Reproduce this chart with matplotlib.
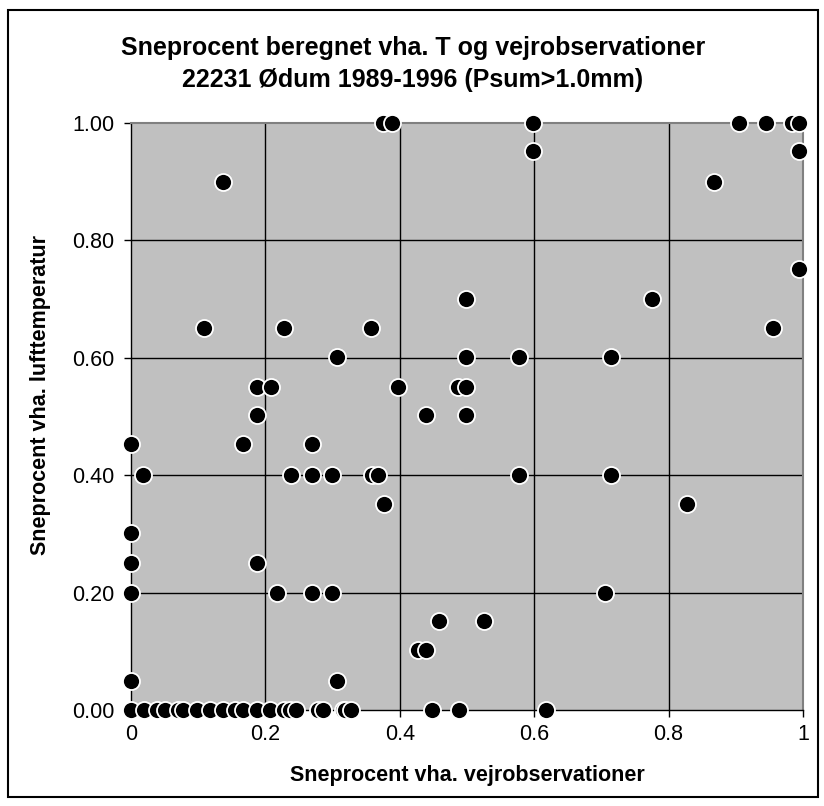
import matplotlib
matplotlib.use("Agg")
import matplotlib.pyplot as plt
from matplotlib.patches import Rectangle
from matplotlib.ticker import FixedLocator, FixedFormatter

plt.rcParams['font.family'] = ['Liberation Sans', 'DejaVu Sans']

# Snow percentage from weather observations (x) vs from air temperature (y)
obs_x = [
    # y = 1.00
    0.375, 0.388, 0.598, 0.905, 0.945, 0.984, 0.994,
    # y ~ 0.95 / 0.90
    0.598, 0.994, 0.137, 0.867,
    # y = 0.75 / 0.70 / 0.65
    0.994, 0.4985, 0.776, 0.108, 0.228, 0.357, 0.955,
    # y = 0.60
    0.307, 0.4985, 0.577, 0.715,
    # y = 0.55
    0.188, 0.208, 0.398, 0.487, 0.4985,
    # y = 0.50
    0.188, 0.4385, 0.4985,
    # y = 0.45
    0.0, 0.167, 0.269,
    # y = 0.40
    0.018, 0.2376, 0.269, 0.2996, 0.358, 0.367, 0.577, 0.715,
    # y = 0.35 / 0.30 / 0.25
    0.377, 0.827, 0.0, 0.0, 0.188,
    # y = 0.20
    0.0, 0.218, 0.269, 0.2996, 0.705,
    # y = 0.15 / 0.10 / 0.05
    0.458, 0.526, 0.4276, 0.4385, 0.0, 0.3066,
    # y = 0.00
    0.0, 0.019, 0.038, 0.05, 0.07, 0.078, 0.098, 0.118, 0.137, 0.155,
    0.167, 0.187, 0.207, 0.228, 0.236, 0.245, 0.278, 0.285, 0.315, 0.318,
    0.328, 0.448, 0.488, 0.617,
]
temp_y = [
    1.0, 1.0, 1.0, 1.0, 1.0, 1.0, 1.0,
    0.952, 0.952, 0.90, 0.90,
    0.751, 0.70, 0.70, 0.651, 0.651, 0.651, 0.651,
    0.602, 0.602, 0.602, 0.602,
    0.551, 0.551, 0.551, 0.551, 0.551,
    0.502, 0.502, 0.502,
    0.453, 0.453, 0.453,
    0.40, 0.40, 0.40, 0.40, 0.40, 0.40, 0.40, 0.40,
    0.351, 0.351, 0.302, 0.25, 0.25,
    0.20, 0.20, 0.20, 0.20, 0.20,
    0.152, 0.152, 0.102, 0.102, 0.05, 0.05,
    0.0, 0.0, 0.0, 0.0, 0.0, 0.0, 0.0, 0.0, 0.0, 0.0,
    0.0, 0.0, 0.0, 0.0, 0.0, 0.0, 0.0, 0.0, 0.0, 0.0,
    0.0, 0.0, 0.0, 0.0,
]

x_ticks = [0, 0.2, 0.4, 0.6, 0.8, 1.0]
x_tick_labels = ["0", "0.2", "0.4", "0.6", "0.8", "1"]
y_ticks = [0.0, 0.2, 0.4, 0.6, 0.8, 1.0]
y_tick_labels = ["0.00", "0.20", "0.40", "0.60", "0.80", "1.00"]

title_lines = ["Sneprocent beregnet vha. T og vejrobservationer",
               "22231 Ødum 1989-1996 (Psum>1.0mm)"]
x_label = "Sneprocent vha. vejrobservationer"
y_label = "Sneprocent vha. lufttemperatur"

W, H = 824, 806
fig = plt.figure(figsize=(W/100, H/100), dpi=100)
ax = fig.add_axes([131/W, 1-710/H, (803-131)/W, (710-123)/H])
ax.set_facecolor("#C0C0C0")
ax.set_xlim(0, 1)
ax.set_ylim(0, 1)

for v in x_ticks[1:-1]:
    ax.axvline(v, color="black", lw=1.0, zorder=1)
for v in y_ticks[1:-1]:
    ax.axhline(v, color="black", lw=1.0, zorder=1)

ax.scatter(obs_x, temp_y, s=150, c="black", edgecolors="white",
           linewidths=1.3, zorder=5, clip_on=False)

ax.xaxis.set_major_locator(FixedLocator(x_ticks))
ax.xaxis.set_major_formatter(FixedFormatter(x_tick_labels))
ax.yaxis.set_major_locator(FixedLocator(y_ticks))
ax.yaxis.set_major_formatter(FixedFormatter(y_tick_labels))
ax.tick_params(axis="both", direction="out", length=5, width=1.0,
               labelsize=15.5, colors="black")
ax.tick_params(axis="x", pad=5)
ax.tick_params(axis="y", pad=7)

for s in ["left", "bottom"]:
    ax.spines[s].set_color("black")
    ax.spines[s].set_linewidth(1.0)
for s in ["top", "right"]:
    ax.spines[s].set_color("#808080")
    ax.spines[s].set_linewidth(1.5)

fig.text(467/W, 1-776/H, x_label, ha="center", va="center",
         fontsize=15.5, fontweight="bold")
fig.text(41/W, 1-395/H, y_label, ha="center", va="center",
         rotation=90, fontsize=15.5, fontweight="bold")
fig.text(413/W, 1-48/H, title_lines[0], ha="center", va="center",
         fontsize=18, fontweight="bold")
fig.text(413/W, 1-80/H, title_lines[1], ha="center", va="center",
         fontsize=18, fontweight="bold")

fig.patches.append(Rectangle((8/W, 1-797/H), 810/W, 787/H,
                             transform=fig.transFigure, fill=False,
                             edgecolor="black", lw=1.5))

fig.savefig("out.png", dpi=100, facecolor="white")
